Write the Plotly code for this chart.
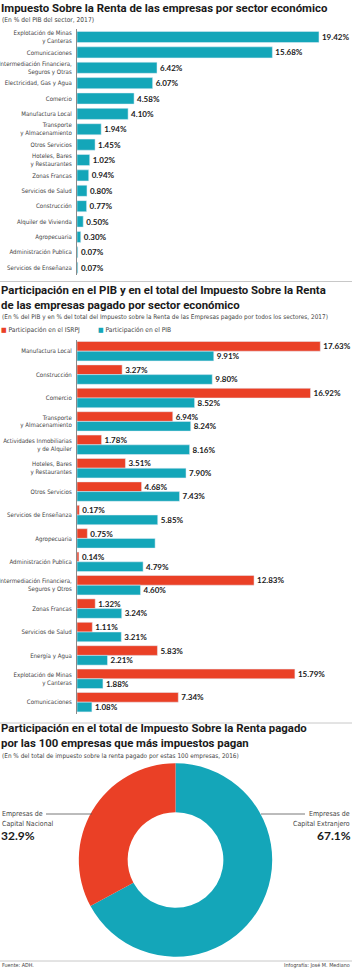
import plotly.graph_objects as go

W, H = 352, 969
RED = "#ea4026"
TEAL = "#14a6b9"
DARK = "#1a1a1a"
GREY = "#444444"

# ---- Chart 1 data ----
c1_labels = ["Explotación de Minas<br>y Canteras", "Comunicaciones",
             "Intermediación Financiera,<br>Seguros y Otras", "Electricidad, Gas y Agua",
             "Comercio", "Manufactura Local", "Transporte<br>y Almacenamiento",
             "Otros Servicios", "Hoteles, Bares<br>y Restaurantes", "Zonas Francas",
             "Servicios de Salud", "Construcción", "Alquiler de Vivienda",
             "Agropecuaria", "Administración Publica", "Servicios de Enseñanza"]
c1_values = [19.42, 15.68, 6.42, 6.07, 4.58, 4.10, 1.94, 1.45, 1.02, 0.94,
             0.80, 0.77, 0.50, 0.30, 0.07, 0.07]

# ---- Chart 2 data ----
c2_labels = ["Manufactura Local", "Construcción", "Comercio",
             "Transporte<br>y Almacenamiento", "Actividades Inmobiliarias<br>y de Alquiler",
             "Hoteles, Bares<br>y Restaurantes", "Otros Servicios",
             "Servicios de Enseñanza", "Agropecuaria", "Administración Publica",
             "Intermediación Financiera,<br>Seguros y Otros", "Zonas Francas",
             "Servicios de Salud", "Energía y Agua",
             "Explotación de Minas<br>y Canteras", "Comunicaciones"]
c2_isr = [17.63, 3.27, 16.92, 6.94, 1.78, 3.51, 4.68, 0.17, 0.75, 0.14,
          12.83, 1.32, 1.11, 5.83, 15.79, 7.34]
c2_pib = [9.91, 9.80, 8.52, 8.24, 8.16, 7.90, 7.43, 5.85, 5.66, 4.79,
          4.60, 3.24, 3.21, 2.21, 1.88, 1.08]
c2_pib_text = ["9.91%", "9.80%", "8.52%", "8.24%", "8.16%", "7.90%", "7.43%",
               "5.85%", "", "4.79%", "4.60%", "3.24%", "3.21%", "2.21%",
               "1.88%", "1.08%"]

# ---- Chart 3 data ----
pie_labels = ["Empresas de Capital Extranjero", "Empresas de Capital Nacional"]
pie_values = [67.1, 32.9]


def py(px):
    return 1 - px / H


def pxx(px):
    return px / W


NARROW = "Liberation Sans Narrow, DejaVu Sans Condensed, Roboto"
LABEL_FONT = dict(family=NARROW, size=6.1, color=GREY)
VAL_FONT = dict(family="Lato, Roboto", size=8.0, color=DARK, weight=700)
TITLE_FAMILY = "Roboto, Liberation Sans"

fig = go.Figure()

# Chart 1
fig.add_trace(go.Bar(
    x=c1_values, y=c1_labels, orientation="h", marker_color=TEAL,
    text=[f"{v:.2f}%" for v in c1_values], textposition="outside",
    textfont=VAL_FONT, cliponaxis=False, constraintext="none",
    width=0.72, xaxis="x", yaxis="y", showlegend=False, hoverinfo="skip"))

# Chart 2
fig.add_trace(go.Bar(
    x=c2_isr, y=c2_labels, orientation="h", marker_color=RED,
    text=[f"{v:.2f}%" for v in c2_isr], textposition="outside",
    textfont=VAL_FONT, cliponaxis=False, constraintext="none",
    name="Participación en el ISRPJ", xaxis="x2", yaxis="y2", showlegend=False,
    offsetgroup="a", hoverinfo="skip"))
fig.add_trace(go.Bar(
    x=c2_pib, y=c2_labels, orientation="h", marker_color=TEAL,
    text=c2_pib_text, textposition="outside",
    textfont=VAL_FONT, cliponaxis=False, constraintext="none",
    name="Participación en el PIB", xaxis="x2", yaxis="y2", showlegend=False,
    offsetgroup="b", hoverinfo="skip"))

# Chart 3
fig.add_trace(go.Pie(
    labels=pie_labels, values=pie_values, hole=0.495, sort=False,
    direction="clockwise", rotation=0, marker=dict(colors=[TEAL, RED]),
    textinfo="none", showlegend=False, hoverinfo="skip",
    domain=dict(x=[pxx(175.5 - 96.7), pxx(175.5 + 96.7)],
                y=[py(860 + 96.7), py(860 - 96.7)])))

# axis geometry
ax_left = pxx(77)
c1_top, c1_step = 29.3, 15.38
c2_top, c2_step = 339.5, 23.4

fig.update_layout(
    width=W, height=H, autosize=False,
    margin=dict(l=0, r=0, t=0, b=0, pad=0),
    paper_bgcolor="white", plot_bgcolor="white",
    barmode="group", bargap=0.17, bargroupgap=0.0,
    xaxis=dict(domain=[ax_left, 1], range=[0, 275 / 12.46], visible=False,
               automargin=False),
    yaxis=dict(domain=[py(c1_top + 16 * c1_step), py(c1_top)],
               range=[15.5, -0.5], showgrid=False, zeroline=False,
               showline=True, linecolor="#8a8a8a", linewidth=1,
               ticks="", tickfont=LABEL_FONT, ticklabelstandoff=3,
               automargin=False),
    xaxis2=dict(domain=[ax_left, 1], range=[0, 275 / 13.8], visible=False,
                automargin=False),
    yaxis2=dict(domain=[py(c2_top + 16 * c2_step), py(c2_top)],
                range=[15.5, -0.5], showgrid=False, zeroline=False,
                showline=True, linecolor="#8a8a8a", linewidth=1,
                ticks="", tickfont=LABEL_FONT, ticklabelstandoff=3,
                automargin=False),
)

ann = []


def text(x, y, s, size, color=DARK, family=TITLE_FAMILY, bold=False, xanchor="left"):
    ann.append(dict(x=pxx(x), y=py(y), xref="paper", yref="paper", text=s,
                    showarrow=False, xanchor=xanchor, yanchor="middle",
                    font=dict(family=family, size=size, color=color,
                              weight=700 if bold else 400),
                    align=xanchor if xanchor != "center" else "center",
                    borderpad=0))


TS = 11.4
text(0, 8, "Impuesto Sobre la Renta de las empresas por sector económico", TS, bold=True)
text(1, 20, "(En % del PIB del sector, 2017)", 6.6, color=GREY, family=NARROW)

text(0, 297, "Participación en el PIB y en el total del Impuesto Sobre la Renta<br>"
             "de las empresas pagado por sector económico", TS, bold=True)
text(1, 317.5, "(En % del PIB y en % del total del Impuesto sobre la Renta de las Empresas pagado por todos los sectores, 2017)",
     6.4, color=GREY, family=NARROW)
text(0, 329.5, f'<span style="color:{RED}">■</span> Participación en el ISRPJ', 6.6, color=GREY, family=NARROW)
text(97, 329.5, f'<span style="color:{TEAL}">■</span> Participación en el PIB', 6.6, color=GREY, family=NARROW)

text(0, 735.5, "Participación en el total de Impuesto Sobre la Renta pagado<br>"
               "por las 100 empresas que más impuestos pagan", TS, bold=True)
text(1, 755.5, "(En % del total de impuesto sobre la renta pagado por estas 100 empresas, 2016)",
     6.4, color=GREY, family=NARROW)

# pie labels
text(1, 814, "Empresas de", 7.0, color=GREY, family=NARROW)
text(1, 824, "Capital Nacional", 7.0, color=GREY, family=NARROW)
text(0, 835, f"{pie_values[1]:.1f}%", 12, bold=True, family="Lato, Roboto")
text(351, 814, "Empresas de", 7.0, color=GREY, family=NARROW, xanchor="right")
text(351, 824, "Capital Extranjero", 7.0, color=GREY, family=NARROW, xanchor="right")
text(352, 835, f"{pie_values[0]:.1f}%", 12, bold=True, family="Lato, Roboto", xanchor="right")

text(1, 965, "Fuente: ADH.", 5.4, color=GREY, family=NARROW)
text(351, 965, "Infografía: José M. Mediano", 5.4, color=GREY, family=NARROW, xanchor="right")

fig.update_layout(annotations=ann)

shapes = []
for yy in (281.5, 723, 961):
    shapes.append(dict(type="line", xref="paper", yref="paper", x0=0, x1=1,
                       y0=py(yy), y1=py(yy), line=dict(color="#c8c8c8", width=1)))
# leader lines for donut labels
shapes.append(dict(type="line", xref="paper", yref="paper", x0=pxx(46), x1=pxx(92),
                   y0=py(814), y1=py(814), line=dict(color="#555555", width=0.8)))
shapes.append(dict(type="line", xref="paper", yref="paper", x0=pxx(261), x1=pxx(305),
                   y0=py(814), y1=py(814), line=dict(color="#555555", width=0.8)))
fig.update_layout(shapes=shapes)

fig.write_html("out.html")
